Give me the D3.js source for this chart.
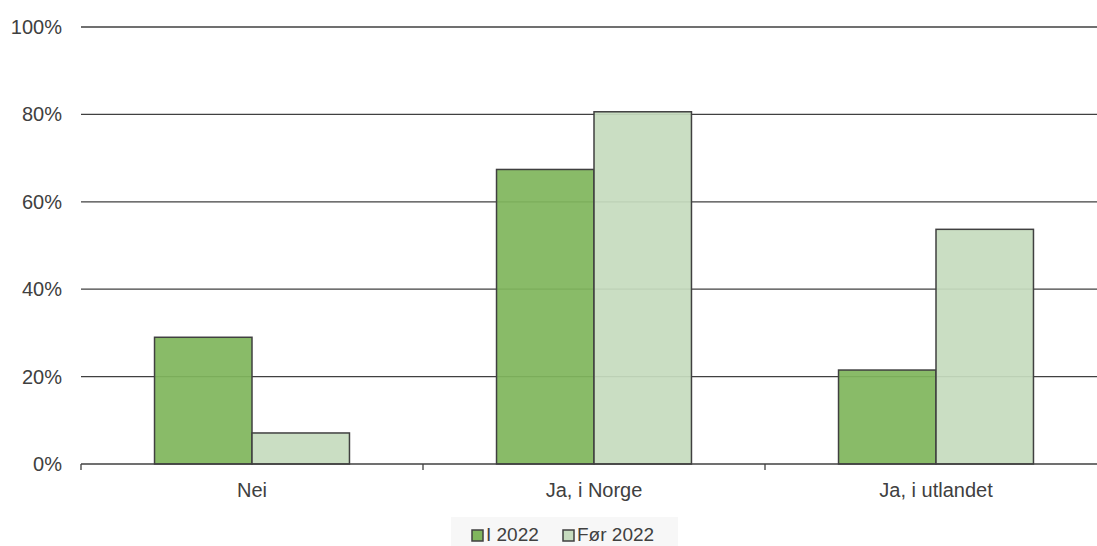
<!DOCTYPE html>
<html>
<head>
<meta charset="utf-8">
<script src="https://cdn.jsdelivr.net/npm/d3@7"></script>
<style>
  body { margin: 0; background: #fff; }
  text { font-family: "Liberation Sans", Arial, sans-serif; fill: #404040; }
</style>
</head>
<body>
<svg id="chart" width="1097" height="546"></svg>
<script>
var categories = ["Nei", "Ja, i Norge", "Ja, i utlandet"],
    seriesNames = ["I 2022", "Før 2022"],
    valuesI2022 = [29.0, 67.4, 21.5],
    valuesFor2022 = [7.1, 80.6, 53.7],
    yTicks = [0, 20, 40, 60, 80, 100]

var colors = ["#80b65d", "#c6dbbe"]

var margin = {top: 27, left: 81},
    width  = 1026,
    height = 437

var svg = d3.select("#chart")

var g = svg.append("g")
  .attr("transform", "translate(" + margin.left + "," + margin.top + ")")

var x = d3.scaleBand()
  .domain(categories)
  .range([0, width])

var xs = d3.scaleBand()
  .domain(seriesNames)
  .range([x.bandwidth() * 0.215, x.bandwidth() * 0.785])

var y = d3.scaleLinear()
  .domain([0, 100])
  .range([height, 0])

// gridlines
g.append("g")
  .selectAll("line")
  .data(yTicks.filter(t => t > 0))
  .join("line")
  .attr("x1", 0).attr("x2", width)
  .attr("y1", d => y(d)).attr("y2", d => y(d))
  .attr("stroke", "#404040")
  .attr("stroke-width", 1.3)

// y labels
g.append("g")
  .selectAll("text")
  .data(yTicks)
  .join("text")
  .attr("x", -19)
  .attr("y", d => y(d))
  .attr("dy", "0.35em")
  .attr("text-anchor", "end")
  .style("font-size", "20px")
  .text(d => d + "%")

// bars
var rows = categories.map((c, i) => ({cat: c, vals: [valuesI2022[i], valuesFor2022[i]]}))

var groups = g.append("g")
  .selectAll("g")
  .data(rows)
  .join("g")
  .attr("transform", d => "translate(" + x(d.cat) + ",0)")

groups.selectAll("rect")
  .data(d => d.vals.map((v, j) => ({name: seriesNames[j], v: v, j: j})))
  .join("rect")
  .attr("x", d => xs(d.name))
  .attr("width", xs.bandwidth())
  .attr("y", d => y(d.v))
  .attr("height", d => y(0) - y(d.v))
  .attr("fill", d => colors[d.j])
  .attr("fill-opacity", 0.93)
  .attr("stroke", "#404040")
  .attr("stroke-width", 1.5)

// x axis line and ticks
g.append("line")
  .attr("x1", 0).attr("x2", width)
  .attr("y1", y(0)).attr("y2", y(0))
  .attr("stroke", "#404040")
  .attr("stroke-width", 1.5)

g.append("g")
  .selectAll("line")
  .data(categories)
  .join("line")
  .attr("x1", d => x(d)).attr("x2", d => x(d))
  .attr("y1", y(0)).attr("y2", y(0) + 6)
  .attr("stroke", "#404040")
  .attr("stroke-width", 1.3)

g.append("g")
  .selectAll("text")
  .data(categories)
  .join("text")
  .attr("x", d => x(d) + x.bandwidth() / 2)
  .attr("y", y(0) + 33)
  .attr("text-anchor", "middle")
  .style("font-size", "20px")
  .text(d => d)

// legend
var legend = svg.append("g")

legend.append("rect")
  .attr("x", 451).attr("y", 517)
  .attr("width", 227).attr("height", 29)
  .attr("fill", "#f7f7f7")

var litems = legend.selectAll("g")
  .data(seriesNames)
  .join("g")
  .attr("transform", (d, i) => "translate(" + [472, 563][i] + ",530)")

litems.append("rect")
  .attr("x", 0).attr("y", 0)
  .attr("width", 11).attr("height", 11)
  .attr("fill", (d, i) => colors[i])
  .attr("stroke", "#404040")
  .attr("stroke-width", 1.5)

litems.append("text")
  .attr("x", 14)
  .attr("y", 11)
  .style("font-size", "19px")
  .text(d => d)
</script>
</body>
</html>
